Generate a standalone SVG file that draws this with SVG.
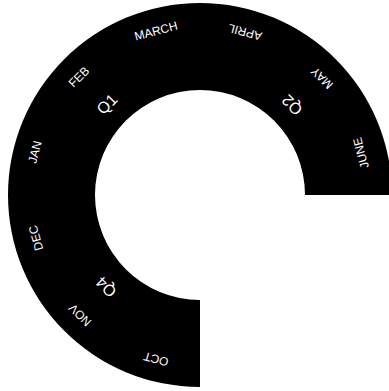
<svg xmlns="http://www.w3.org/2000/svg" width="389" height="391" viewBox="0 0 389 391">
<style>
.m{font-family:"Liberation Sans",Arial,sans-serif;font-size:12px;fill:#fff;text-anchor:middle;dominant-baseline:central}
.q{font-family:"Liberation Sans",Arial,sans-serif;font-size:16px;fill:#fff;text-anchor:middle;dominant-baseline:central}
</style>
<rect width="389" height="391" fill="#fff"/>
<g id="ring">
<path d="M 392 195 A 192 192 0 1 0 200 387 L 200 300 A 105 105 0 1 1 305 195 Z" fill="#000"/>
</g>
<g id="q1">
<text class="q" transform="translate(107,104) rotate(-45)">Q1</text>
<text class="m" transform="translate(35,152) rotate(-75)">JAN</text>
<text class="m" transform="translate(79,77) rotate(-45)">FEB</text>
<text class="m" transform="translate(156,31) rotate(-15)">MARCH</text>
</g>
<g id="q2">
<text class="q" transform="translate(292,105) rotate(-135)">Q2</text>
<text class="m" transform="translate(245,32) rotate(-165)">APRIL</text>
<text class="m" transform="translate(322,78) rotate(-135)">MAY</text>
<text class="m" transform="translate(361,153) rotate(-105)">JUNE</text>
</g>
<g id="q4">
<text class="q" transform="translate(106,287) rotate(225)">Q4</text>
<text class="m" transform="translate(156,359) rotate(195)">OCT</text>
<text class="m" transform="translate(80,315) rotate(225)">NOV</text>
<text class="m" transform="translate(36,238) rotate(255)">DEC</text>
</g>
</svg>
